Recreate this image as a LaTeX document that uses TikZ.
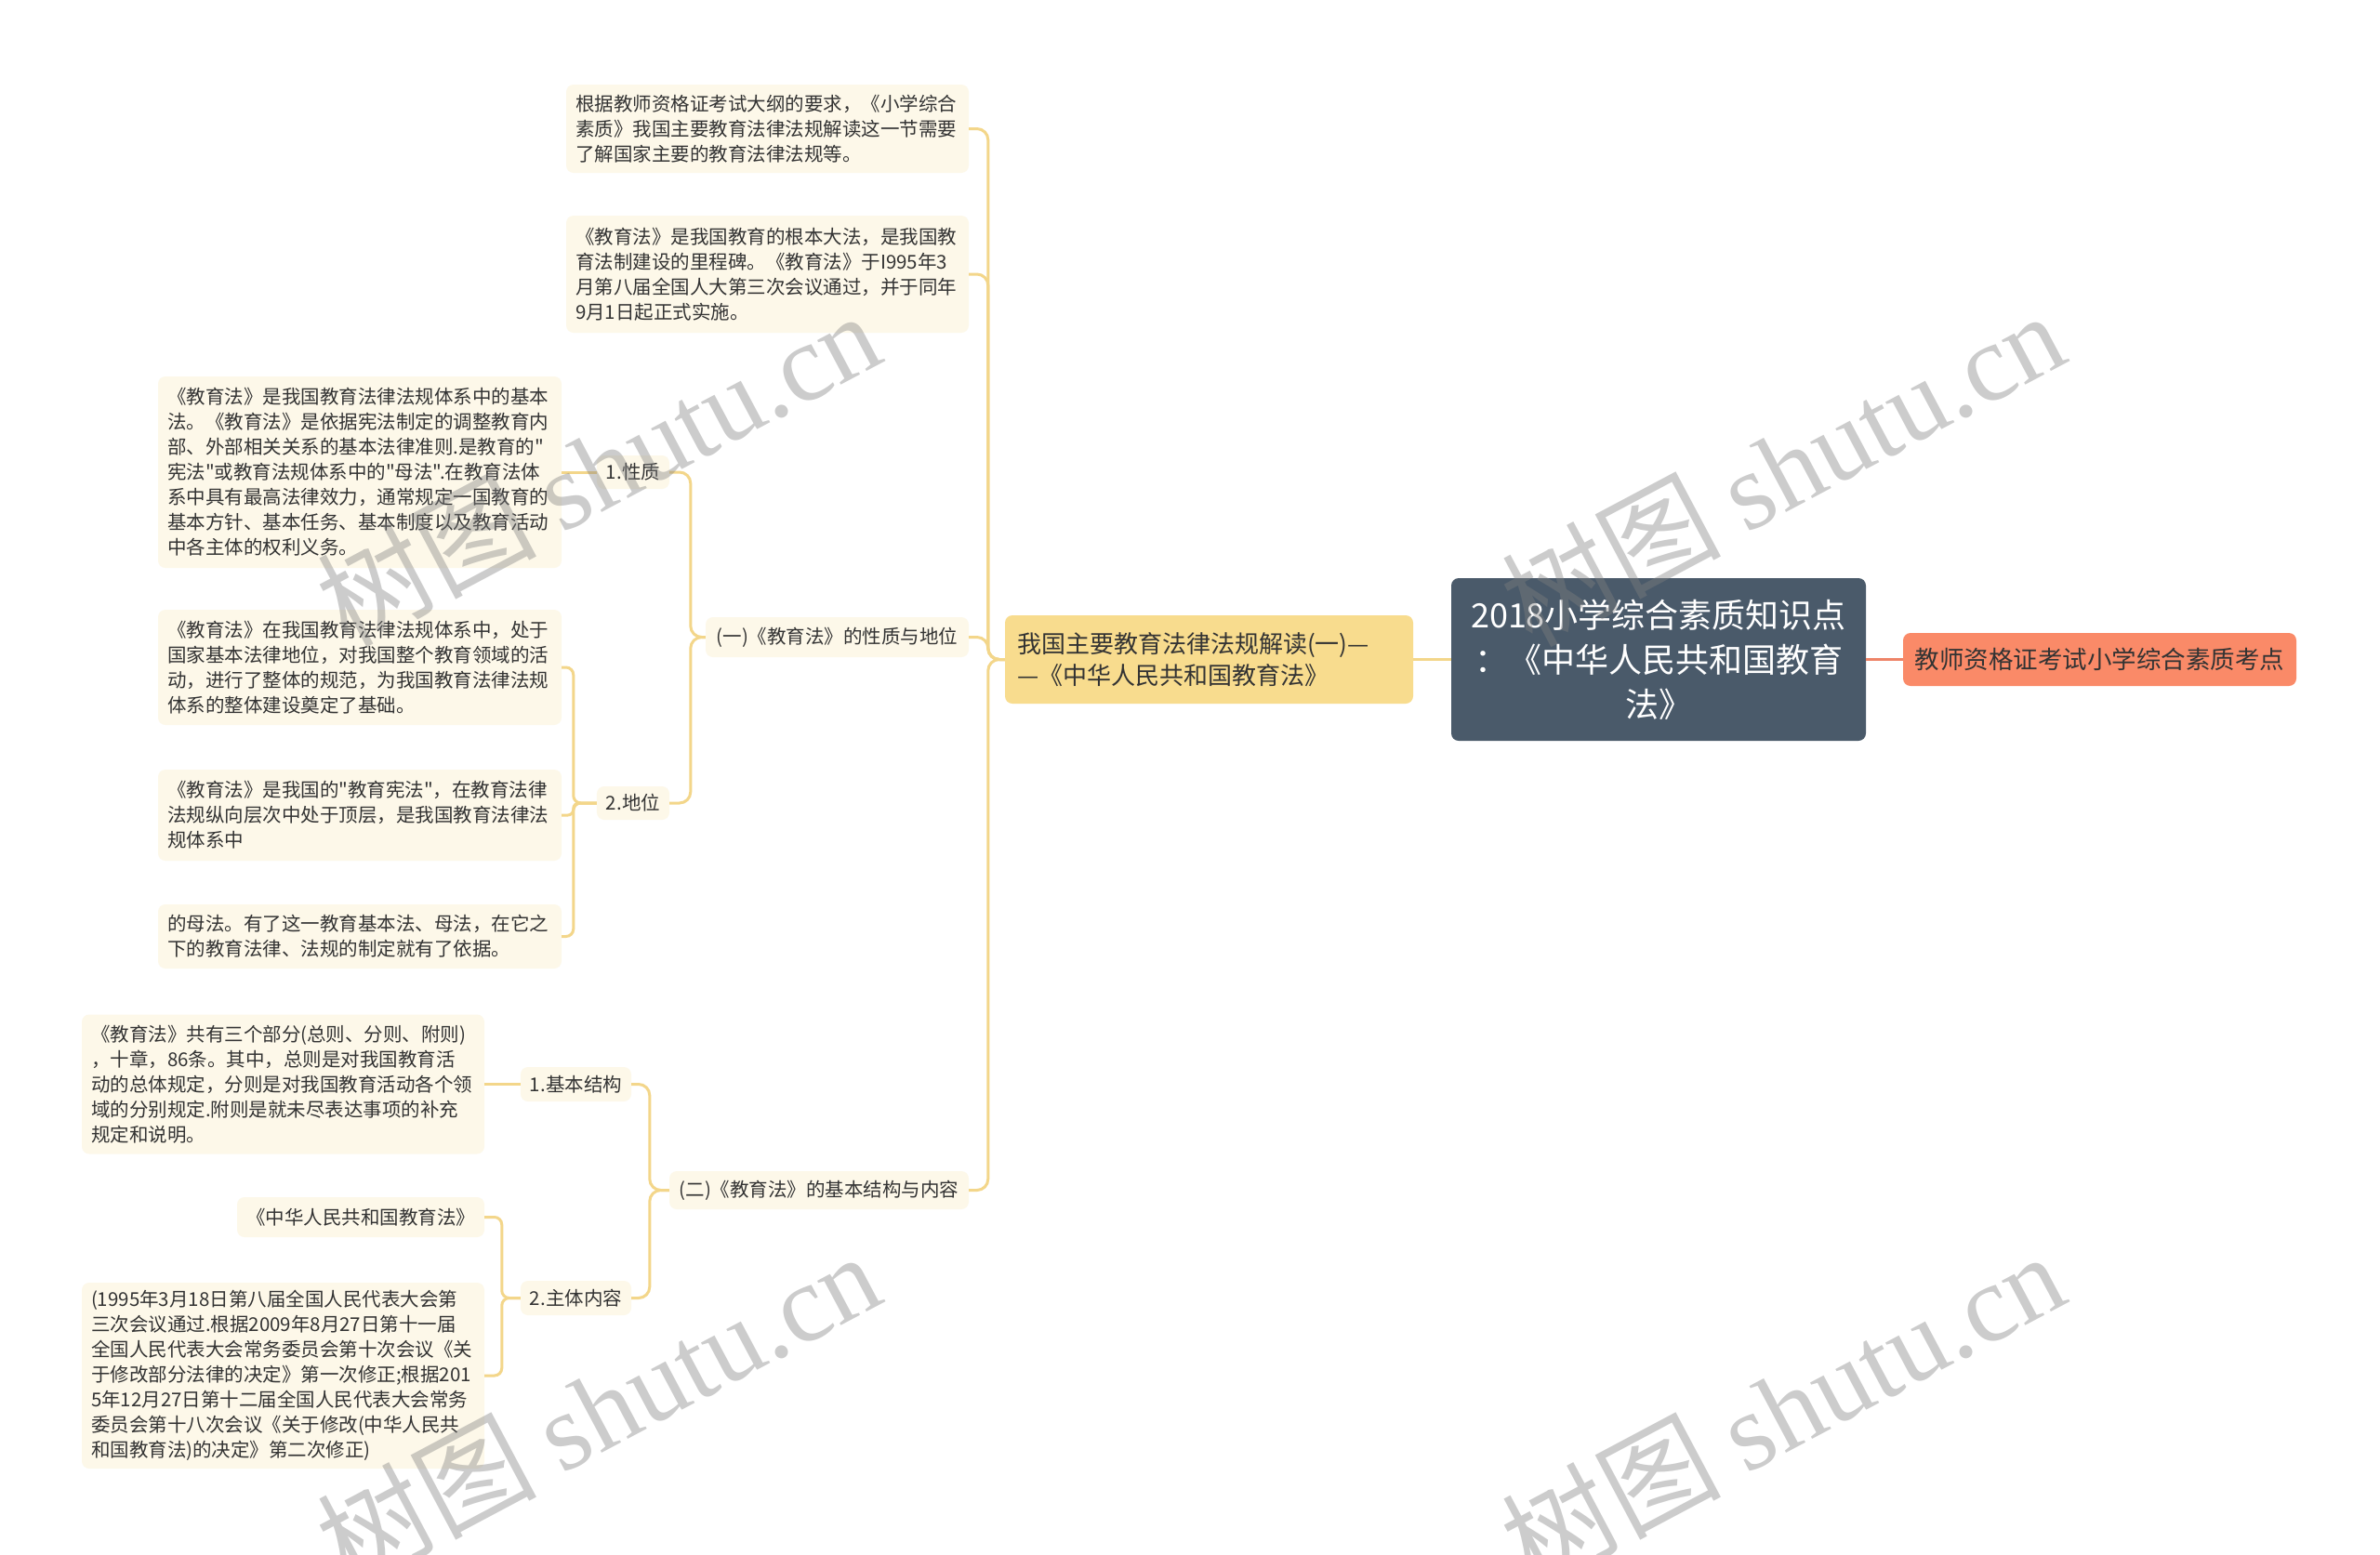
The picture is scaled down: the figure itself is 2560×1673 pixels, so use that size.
\documentclass[tikz,border=0pt]{standalone}
\usepackage{fontspec}
\setmainfont{Noto Sans CJK SC}[Ligatures=TeXOff]
\newfontfamily\wmserif{Liberation Serif}
\definecolor{rootfill}{HTML}{4A5A6A}
\definecolor{orangefill}{HTML}{FA8A68}
\definecolor{lonefill}{HTML}{F8DC8E}
\definecolor{leaffill}{HTML}{FDF8E9}
\definecolor{connY}{HTML}{F3D68A}
\definecolor{connO}{HTML}{EE8468}
\definecolor{txt}{HTML}{333333}
\tikzset{
  base/.style={rounded corners=8pt, inner ysep=0pt, text=txt},
  leaf/.style={base, fill=leaffill, align=left, inner xsep=10pt, font=\fontsize{20.5}{27}\selectfont},
  sub/.style={base, fill=leaffill, align=center, inner xsep=10pt, font=\fontsize{20.5}{27}\selectfont},
  rootbox/.style={rounded corners=8pt, fill=rootfill, text=white, align=center, inner xsep=18pt, inner ysep=0pt, text width=410pt, font=\fontsize{36}{48}\selectfont},
  onebox/.style={base, fill=lonefill, align=left, inner xsep=13pt, text width=413pt, font=\fontsize{26}{34}\selectfont},
  orbox/.style={base, fill=orangefill, align=center, inner xsep=12pt, font=\fontsize{26.5}{34}\selectfont},
  cy/.style={draw=connY, line width=3pt, rounded corners=12pt},
  co/.style={draw=connO, line width=3pt},
  wm/.style={text=gray, opacity=0.40, rotate=28, font=\fontsize{118}{120}\selectfont}
}
\begin{document}
\begin{tikzpicture}[x=1pt, y=-1pt]
\useasboundingbox[fill=white] (0,0) rectangle (2560,1673);

% root and first-level nodes
\node[rootbox, minimum height=175pt] (root) at (1784,709.5) {2018小学综合素质知识点\\：《中华人民共和国教育\\法》};
\node[orbox, minimum width=423pt, minimum height=57pt] (right) at (2258.5,709.5) {教师资格证考试小学综合素质考点};
\node[onebox, minimum height=95pt] (lone) at (1300.5,709.5) {我国主要教育法律法规解读(一)—\\—《中华人民共和国教育法》};

% leaves attached to first-level node
\node[leaf, text width=413pt, minimum height=95pt] (la) at (825.5,138.5) {根据教师资格证考试大纲的要求，《小学综合\\素质》我国主要教育法律法规解读这一节需要\\了解国家主要的教育法律法规等。};
\node[leaf, text width=413pt, minimum height=126pt] (lb) at (825.5,295) {《教育法》是我国教育的根本大法，是我国教\\育法制建设的里程碑。《教育法》于I995年3\\月第八届全国人大第三次会议通过，并于同年\\9月1日起正式实施。};
\node[sub, minimum width=283pt, minimum height=43pt] (sa) at (900.5,685.5) {(一)《教育法》的性质与地位};
\node[sub, minimum width=322pt, minimum height=41pt] (sb) at (881,1280.5) {(二)《教育法》的基本结构与内容};

% section one
\node[sub, minimum width=78pt, minimum height=36pt] (xz) at (681,508) {1.性质};
\node[sub, minimum width=78pt, minimum height=36pt] (dw) at (681,864) {2.地位};
\node[leaf, text width=414pt, minimum height=206pt] (xzl) at (387,508) {《教育法》是我国教育法律法规体系中的基本\\法。《教育法》是依据宪法制定的调整教育内\\部、外部相关关系的基本法律准则.是教育的"\\宪法"或教育法规体系中的"母法".在教育法体\\系中具有最高法律效力，通常规定一国教育的\\基本方针、基本任务、基本制度以及教育活动\\中各主体的权利义务。};
\node[leaf, text width=414pt, minimum height=124pt] (dwa) at (387,718) {《教育法》在我国教育法律法规体系中，处于\\国家基本法律地位，对我国整个教育领域的活\\动，进行了整体的规范，为我国教育法律法规\\体系的整体建设奠定了基础。};
\node[leaf, text width=414pt, minimum height=98pt] (dwb) at (387,877) {《教育法》是我国的"教育宪法"，在教育法律\\法规纵向层次中处于顶层，是我国教育法律法\\规体系中};
\node[leaf, text width=414pt, minimum height=69pt] (dwc) at (387,1007.5) {的母法。有了这一教育基本法、母法，在它之\\下的教育法律、法规的制定就有了依据。};

% section two
\node[sub, minimum width=119pt, minimum height=37pt] (jg) at (619.5,1166.5) {1.基本结构};
\node[sub, minimum width=119pt, minimum height=37pt] (nr) at (619.5,1396.5) {2.主体内容};
\node[leaf, text width=413pt, minimum height=150pt] (jgl) at (304.5,1166.5) {《教育法》共有三个部分(总则、分则、附则)\\，十章，86条。其中，总则是对我国教育活\\动的总体规定，分则是对我国教育活动各个领\\域的分别规定.附则是就未尽表达事项的补充\\规定和说明。};
\node[sub, minimum width=266pt, minimum height=43pt] (nra) at (388,1309.5) {《中华人民共和国教育法》};
\node[leaf, text width=413pt, minimum height=200pt] (nrb) at (304.5,1480) {(1995年3月18日第八届全国人民代表大会第\\三次会议通过.根据2009年8月27日第十一届\\全国人民代表大会常务委员会第十次会议《关\\于修改部分法律的决定》第一次修正;根据201\\5年12月27日第十二届全国人民代表大会常务\\委员会第十八次会议《关于修改(中华人民共\\和国教育法)的决定》第二次修正)};

% connectors
\draw[co] (root.east) -- (right.west);
\draw[cy] (root.west) -- (lone.east);
\draw[cy] (lone.west) -- ++(-18,0) |- (la.east);
\draw[cy] (lone.west) -- ++(-18,0) |- (lb.east);
\draw[cy] (lone.west) -- ++(-18,0) |- (sa.east);
\draw[cy] (lone.west) -- ++(-18,0) |- (sb.east);
\draw[cy] (sa.west) -- ++(-16,0) |- (xz.east);
\draw[cy] (sa.west) -- ++(-16,0) |- (dw.east);
\draw[cy] (xz.west) -- (xzl.east);
\draw[cy, rounded corners=8pt] (dw.west) -- ++(-25,0) |- (dwa.east);
\draw[cy, rounded corners=6pt] (dw.west) -- ++(-25,0) |- (dwb.east);
\draw[cy, rounded corners=8pt] (dw.west) -- ++(-25,0) |- (dwc.east);
\draw[cy] (sb.west) -- ++(-21,0) |- (jg.east);
\draw[cy] (sb.west) -- ++(-21,0) |- (nr.east);
\draw[cy] (jg.west) -- (jgl.east);
\draw[cy, rounded corners=8pt] (nr.west) -- ++(-20,0) |- (nra.east);
\draw[cy, rounded corners=8pt] (nr.west) -- ++(-20,0) |- (nrb.east);

% watermarks
\node[wm] (wma) at (643,503) {树图 {\wmserif shutu.cn}};
\node[wm] (wmb) at (1917,503) {树图 {\wmserif shutu.cn}};
\node[wm] (wmc) at (643,1515) {树图 {\wmserif shutu.cn}};
\node[wm] (wmd) at (1917,1515) {树图 {\wmserif shutu.cn}};
\end{tikzpicture}
\end{document}
